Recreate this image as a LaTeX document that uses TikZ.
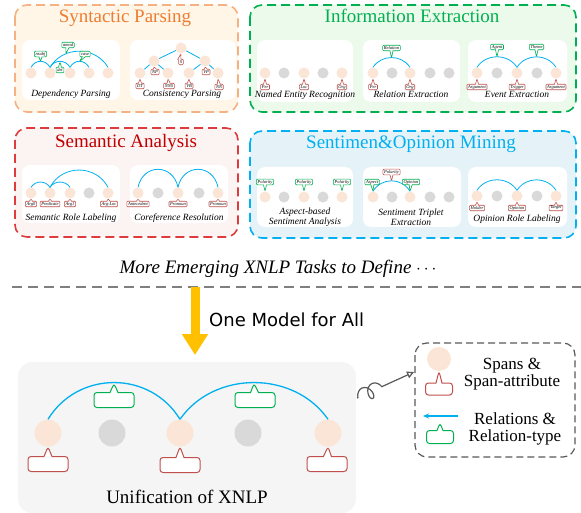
\documentclass[tikz,border=0pt]{standalone}
\usepackage{fontspec}
\setmainfont{Liberation Serif}
\newfontfamily\handfont{DejaVu Sans}
\usetikzlibrary{shapes.callouts,arrows.meta,decorations.pathmorphing}

\definecolor{spanfill}{RGB}{251,229,214}
\definecolor{tokfill}{RGB}{217,217,217}
\definecolor{arcblue}{RGB}{0,176,240}
\definecolor{attrred}{RGB}{192,80,77}
\definecolor{typegreen}{RGB}{0,176,80}
\definecolor{spline}{RGB}{244,177,131}
\definecolor{spfill}{RGB}{255,246,232}
\definecolor{sptext}{RGB}{237,125,49}
\definecolor{ieline}{RGB}{0,176,80}
\definecolor{iefill}{RGB}{236,250,236}
\definecolor{saline}{RGB}{222,60,60}
\definecolor{safill}{RGB}{252,243,243}
\definecolor{satext}{RGB}{192,0,0}
\definecolor{soline}{RGB}{0,176,240}
\definecolor{sofill}{RGB}{229,243,248}
\definecolor{unifill}{RGB}{245,245,245}
\definecolor{leggray}{RGB}{89,89,89}
\definecolor{sepgray}{RGB}{127,127,127}
\definecolor{modelgold}{RGB}{255,192,0}

\tikzset{
  task/.style={line width=1.6pt, dash pattern=on 9pt off 5pt, rounded corners=12pt},
  tasktitle/.style={anchor=base, inner sep=0pt, font=\fontsize{19}{22}\selectfont},
  panel/.style={fill=white, rounded corners=8pt},
  tasklabel/.style={anchor=base, inner sep=0pt, font=\fontsize{9.5}{10}\selectfont\itshape},
  span/.style={circle, fill=spanfill, minimum size=11pt, inner sep=0pt},
  token/.style={circle, fill=tokfill, minimum size=11pt, inner sep=0pt},
  attr/.style={rectangle callout, draw=attrred, fill=white, line width=0.6pt, rounded corners=1pt,
    callout pointer width=3pt, inner xsep=1.2pt, inner ysep=0.8pt, minimum height=5.5pt,
    font=\fontsize{4.5}{4.5}\selectfont\itshape},
  rtype/.style={attr, draw=typegreen},
  bigattr/.style={attr, line width=1pt, rounded corners=3pt, callout pointer width=8pt,
    minimum width=40pt, minimum height=15pt},
  bigrtype/.style={bigattr, draw=typegreen},
  rel/.style={draw=arcblue, line width=0.8pt},
}

\begin{document}
\begin{tikzpicture}[x=1pt, y=-1pt]
\useasboundingbox (0,0) rectangle (581,513);

\draw[task, draw=spline, fill=spfill] (15,5) rectangle (238,112);
\node[tasktitle, text=sptext] (spT) at (125,23) {Syntactic Parsing};
\fill[panel] (22,40) rectangle (120,100);
\fill[panel] (130,40) rectangle (236,100);

\node[span] (dp1) at (31,73) {};
\node[span] (dp2) at (50,73) {};
\node[span] (dp3) at (70,73) {};
\node[span] (dp4) at (89,73) {};
\node[span] (dp5) at (108,73) {};
\draw[rel] (dp1.north) .. controls +(4.5,-8) and +(-4.5,-8) .. (dp2.north);
\draw[rel] (dp2.north) .. controls +(4.5,-8) and +(-4.5,-8) .. (dp3.north);
\draw[rel] (dp2.north) .. controls +(13,-21.5) and +(-13,-21.5) .. (dp5.north);
\draw[rel] (dp3.north) .. controls +(4.5,-8) and +(-4.5,-8) .. (dp4.north);
\node[rtype, callout absolute pointer={(40.5,61.5)}] (dpN) at (40.5,54) {nsubj};
\node[rtype, callout absolute pointer={(66,54)}] (dpM) at (68,45) {amod};
\node[rtype, callout absolute pointer={(79.5,61.5)}] (dpC) at (85,54) {case};
\node[rtype, callout absolute pointer={(60,62)}] (dpD) at (60,70) {det};
\node[tasklabel] (dpL) at (71,97) {Dependency Parsing};

\node[span] (cp0) at (181,48) {};
\node[span] (cp1) at (154,61) {};
\node[span] (cp2) at (205,61) {};
\node[span] (cp3) at (140,73) {};
\node[span] (cp4) at (168,73) {};
\node[span] (cp5) at (189,73) {};
\node[span] (cp6) at (218,73) {};
\draw[rel] (cp0) -- (cp1);
\draw[rel] (cp0) -- (cp2);
\draw[rel] (cp1) -- (cp3);
\draw[rel] (cp1) -- (cp4);
\draw[rel] (cp2) -- (cp5);
\draw[rel] (cp2) -- (cp6);
\node[attr, callout absolute pointer={(cp0.south)}] (cpS) at (181,62) {S};
\node[attr, callout absolute pointer={(cp1.south)}] (cpNP) at (155,72) {NP};
\node[attr, callout absolute pointer={(cp2.south)}] (cpVP) at (206,72) {VP};
\node[attr, callout absolute pointer={(cp3.south)}] (cpDT) at (140,86) {DT};
\node[attr, callout absolute pointer={(cp4.south)}] (cpNNS) at (169,86) {NNS};
\node[attr, callout absolute pointer={(cp5.south)}] (cpVB) at (189,86) {VB};
\node[attr, callout absolute pointer={(cp6.south)}] (cpNN) at (219,87) {NN};
\node[tasklabel] (cpL) at (182,97) {Consistency Parsing};

\draw[task, draw=ieline, fill=iefill] (250,5) rectangle (576,112);
\node[tasktitle, text=ieline] (ieT) at (412,23) {Information Extraction};
\fill[panel] (257,40) rectangle (353,102);
\fill[panel] (363,40) rectangle (460,102);
\fill[panel] (468,40) rectangle (567,102);

\node[span] (ner1) at (265,73) {};
\node[token] (ner2) at (284,73) {};
\node[span] (ner3) at (304,73) {};
\node[token] (ner4) at (323,73) {};
\node[span] (ner5) at (342,73) {};
\node[attr, callout absolute pointer={(ner1.south)}] (ner1A) at (265,87) {Per};
\node[attr, callout absolute pointer={(ner3.south)}] (ner3A) at (304,87) {Loc};
\node[attr, callout absolute pointer={(ner5.south)}] (ner5A) at (342,87) {Org};
\node[tasklabel] (nerL) at (305,98) {Named Entity Recognition};

\node[span] (re1) at (373,73) {};
\node[token] (re2) at (392,73) {};
\node[span] (re3) at (410,73) {};
\node[token] (re4) at (430,73) {};
\node[token] (re5) at (449,73) {};
\draw[rel] (re1.north) .. controls +(8.5,-13) and +(-8.5,-13) .. (re3.north);
\node[rtype, callout absolute pointer={(391.5,58)}] (reR) at (391.5,48) {Relation};
\node[attr, callout absolute pointer={(re1.south)}] (re1A) at (373,87) {Per};
\node[attr, callout absolute pointer={(re3.south)}] (re3A) at (410,87) {Org};
\node[tasklabel] (reL) at (411,98) {Relation Extraction};

\node[span] (ee1) at (477,73) {};
\node[token] (ee2) at (497,73) {};
\node[span] (ee3) at (517,73) {};
\node[token] (ee4) at (537,73) {};
\node[span] (ee5) at (556,73) {};
\draw[rel] (ee1.north) .. controls +(9,-14) and +(-9,-14) .. (ee3.north);
\draw[rel] (ee3.north) .. controls +(9,-14) and +(-9,-14) .. (ee5.north);
\node[rtype, callout absolute pointer={(497,57)}] (eeAg) at (497,47) {Agent};
\node[rtype, callout absolute pointer={(536.5,57)}] (eeTh) at (536.5,47) {Theme};
\node[attr, callout absolute pointer={(ee1.south)}] (ee1A) at (477,87) {Argument};
\node[attr, callout absolute pointer={(ee3.south)}] (ee3A) at (517,87) {Trigger};
\node[attr, callout absolute pointer={(ee5.south)}] (ee5A) at (556,87) {Argument};
\node[tasklabel] (eeL) at (517,98) {Event Extraction};

\draw[task, draw=saline, fill=safill] (15,128) rectangle (238,237);
\node[tasktitle, text=satext] (saT) at (126,148) {Semantic Analysis};
\fill[panel] (22,165) rectangle (120,223);
\fill[panel] (130,165) rectangle (228,223);

\node[span] (sr1) at (31,193) {};
\node[span] (sr2) at (50,193) {};
\node[span] (sr3) at (70,193) {};
\node[token] (sr4) at (89,193) {};
\node[span] (sr5) at (108,193) {};
\draw[rel] (sr1.north) .. controls +(4.5,-7) and +(-4.5,-7) .. (sr2.north);
\draw[rel] (sr2.north) .. controls +(4.5,-7) and +(-4.5,-7) .. (sr3.north);
\draw[rel] (sr2.north) .. controls +(12,-23) and +(-12,-23) .. (sr5.north);
\node[attr, callout absolute pointer={(sr1.south)}] (sr1A) at (31,204) {Arg0};
\node[attr, callout absolute pointer={(sr2.south)}] (sr2A) at (50,204) {Predicate};
\node[attr, callout absolute pointer={(sr3.south)}] (sr3A) at (70,204) {Arg1};
\node[attr, callout absolute pointer={(sr5.south)}] (sr5A) at (109,204) {Arg-Loc};
\node[tasklabel] (srL) at (71,221) {Semantic Role Labeling};

\node[span] (cr1) at (138,193) {};
\node[token] (cr2) at (158,193) {};
\node[span] (cr3) at (178,193) {};
\node[token] (cr4) at (199,193) {};
\node[span] (cr5) at (218,193) {};
\draw[rel] (cr1.north) .. controls +(5,-24) and +(-5,-24) .. (cr3.north);
\draw[rel] (cr3.north) .. controls +(5,-24) and +(-5,-24) .. (cr5.north);
\node[attr, callout absolute pointer={(cr1.south)}] (cr1A) at (138,204) {Antecedent};
\node[attr, callout absolute pointer={(cr3.south)}] (cr3A) at (178,204) {Pronoun};
\node[attr, callout absolute pointer={(cr5.south)}] (cr5A) at (218,204) {Pronoun};
\node[tasklabel] (crL) at (179,221) {Coreference Resolution};

\draw[task, draw=soline, fill=sofill] (250,131) rectangle (576,238);
\node[tasktitle, text=soline] (soT) at (411,149) {Sentimen\&Opinion Mining};
\fill[panel] (257,167) rectangle (353,227);
\fill[panel] (363,167) rectangle (461,227);
\fill[panel] (468,167) rectangle (567,227);

\node[span] (ab1) at (265,197) {};
\node[token] (ab2) at (284,197) {};
\node[span] (ab3) at (304,197) {};
\node[token] (ab4) at (323,197) {};
\node[span] (ab5) at (342,197) {};
\node[rtype, callout absolute pointer={(ab1.north)}] (ab1P) at (265,182) {Polarity};
\node[rtype, callout absolute pointer={(ab3.north)}] (ab3P) at (304,182) {Polarity};
\node[rtype, callout absolute pointer={(ab5.north)}] (ab5P) at (342,182) {Polarity};
\node[tasklabel, anchor=center, align=center] (abL) at (305,217.5) {Aspect-based\\Sentiment Analysis};

\node[span] (st1) at (373,197) {};
\node[token] (st2) at (392,197) {};
\node[span] (st3) at (410,197) {};
\node[token] (st4) at (430,197) {};
\node[token] (st5) at (449,197) {};
\draw[rel] (st1.north) .. controls +(8.5,-14) and +(-8.5,-14) .. (st3.north);
\node[rtype, callout absolute pointer={(st1.north)}] (st1P) at (372,182) {Aspect};
\node[rtype, callout absolute pointer={(st3.north)}] (st3P) at (411,182) {Opinion};
\node[attr, callout absolute pointer={(391.5,181)}] (stPol) at (391.5,172) {Polarity};
\node[tasklabel, anchor=center, align=center] (stL) at (411,217.5) {Sentiment Triplet\\Extraction};

\node[span] (or1) at (477,196) {};
\node[token] (or2) at (497,196) {};
\node[span] (or3) at (517,196) {};
\node[token] (or4) at (537,196) {};
\node[span] (or5) at (556,196) {};
\draw[rel] (or1.north) .. controls +(9,-14) and +(-9,-14) .. (or3.north);
\draw[rel] (or3.north) .. controls +(9,-14) and +(-9,-14) .. (or5.north);
\node[attr, callout absolute pointer={(or1.south)}] (or1A) at (477,208) {Holder};
\node[attr, callout absolute pointer={(or3.south)}] (or3A) at (517,208) {Opinion};
\node[attr, callout absolute pointer={(or5.south)}] (or5A) at (556,208) {Target};
\node[tasklabel] (orL) at (517,222) {Opinion Role Labeling};

\node[anchor=base, inner sep=0pt, font=\fontsize{19}{22}\selectfont\itshape] (more) at (278,273) {More Emerging XNLP Tasks to Define $\cdots$};
\coordinate (sepL) at (12,287);
\coordinate (sepR) at (581,287);
\draw[sepgray, line width=1.6pt, dash pattern=on 10pt off 6pt] (sepL) -- (sepR);
\coordinate (arrS) at (195,287);
\coordinate (arrE) at (195,355);
\draw[modelgold, line width=9pt, -{Triangle[length=21pt, width=25pt]}] (arrS) -- (arrE);
\node[anchor=base west, inner sep=0pt, font=\handfont\fontsize{18}{20}\selectfont] (model) at (209,326) {One Model for All};

\fill[unifill, rounded corners=14pt] (18,362) rectangle (356,513);
\node[span, minimum size=27pt] (u1) at (48,433) {};
\node[token, minimum size=27pt] (u2) at (112,433) {};
\node[span, minimum size=27pt] (u3) at (180,433) {};
\node[token, minimum size=27pt] (u4) at (248,433) {};
\node[span, minimum size=27pt] (u5) at (328,433) {};
\draw[rel, line width=1.3pt] (u1.north) .. controls +(30,-49) and +(-30,-49) .. (u3.north);
\draw[rel, line width=1.3pt] (u3.north) .. controls +(34,-49) and +(-34,-49) .. (u5.north);
\node[bigrtype, callout absolute pointer={(114,383.5)}] (u13T) at (114,400) {};
\node[bigrtype, callout absolute pointer={(254,383.5)}] (u35T) at (255,400) {};
\node[bigattr, callout absolute pointer={(u1.south)}] (u1A) at (48,464) {};
\node[bigattr, callout absolute pointer={(u3.south)}] (u3A) at (180,465) {};
\node[bigattr, callout absolute pointer={(u5.south)}] (u5A) at (327,464) {};
\node[anchor=base, inner sep=0pt, font=\fontsize{19}{22}\selectfont] (uniL) at (187,503) {Unification of XNLP};

\coordinate (sqS) at (357,398);
\coordinate (sqE) at (414,372);
\draw[leggray, line width=1.2pt, -{Triangle[open, length=7pt, width=7pt]},
  decoration={coil, aspect=0.7, amplitude=7pt, segment length=11pt, pre length=1pt, post length=30pt}, decorate] (sqS) -- (sqE);

\draw[leggray, line width=1.2pt, dash pattern=on 7pt off 4pt, rounded corners=12pt] (415,343) rectangle (575,457);
\node[span, minimum size=24pt] (lgS) at (439,359) {};
\node[bigattr, minimum width=27pt, minimum height=12pt, callout pointer width=6pt, callout absolute pointer={(lgS.south)}] (lgA) at (439,389) {};
\node[align=center, inner sep=0pt, font=\fontsize{17}{16.5}\selectfont] (lgT1) at (512,374) {Spans \&\\Span-attribute};
\coordinate (lgR) at (458,416);
\coordinate (lgL) at (423,416);
\draw[rel, line width=1.2pt, -{Stealth[length=6pt, width=5pt]}] (lgR) -- (lgL);
\coordinate (lgTip) at (440,423);
\node[bigrtype, minimum width=27pt, minimum height=13pt, callout pointer width=6pt, callout absolute pointer={(lgTip)}] (lgR2) at (440,437) {};
\node[align=center, inner sep=0pt, font=\fontsize{17}{16.5}\selectfont] (lgT2) at (515,429) {Relations \&\\Relation-type};
\end{tikzpicture}
\end{document}
